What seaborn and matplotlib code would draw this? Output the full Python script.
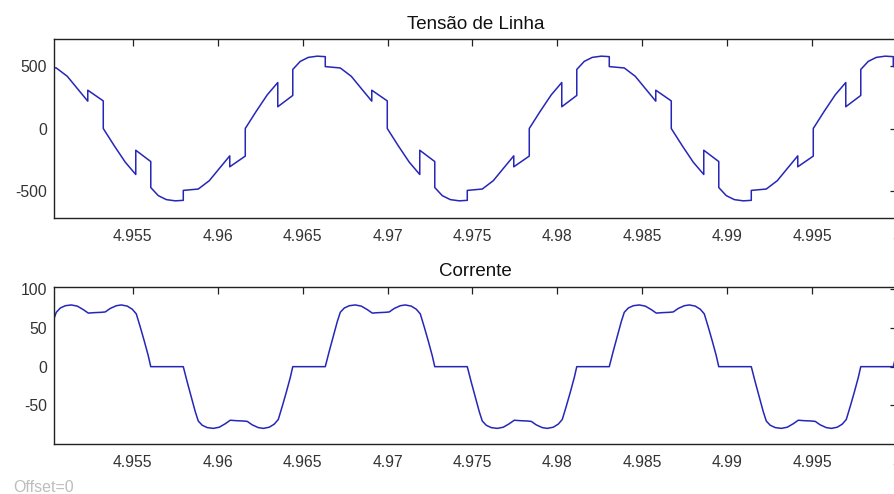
import matplotlib
matplotlib.use("Agg")
import matplotlib.pyplot as plt
import seaborn as sns

# ---------------- data ----------------
# Line voltage (Tensão de Linha): time [s] and value [V]; repeated times = vertical steps
t_tensao = [
    4.95037, 4.950504, 4.951151, 4.951740, 4.952358, 4.952358, 4.953270,
    4.953270, 4.953917, 4.954565, 4.955183, 4.955183, 4.956066, 4.956066, 4.956507, 4.956978,
    4.957508, 4.957979, 4.957979, 4.958862, 4.959509, 4.960098, 4.960716, 4.960716, 4.961628,
    4.961628, 4.962275, 4.962923, 4.963541, 4.963541, 4.964424, 4.964424, 4.964865, 4.965336,
    4.965866, 4.966337, 4.966337, 4.967220, 4.967867, 4.968456, 4.969074, 4.969074, 4.969986,
    4.969986, 4.970633, 4.971281, 4.971899, 4.971899, 4.972782, 4.972782, 4.973223, 4.973694,
    4.974224, 4.974695, 4.974695, 4.975578, 4.976225, 4.976814, 4.977432, 4.977432, 4.978344,
    4.978344, 4.978991, 4.979639, 4.980257, 4.980257, 4.981140, 4.981140, 4.981581, 4.982052,
    4.982582, 4.983053, 4.983053, 4.983936, 4.984583, 4.985172, 4.985790, 4.985790, 4.986702,
    4.986702, 4.987349, 4.987997, 4.988615, 4.988615, 4.989498, 4.989498, 4.989939, 4.990410,
    4.990940, 4.991411, 4.991411, 4.992294, 4.992941, 4.993530, 4.994148, 4.994148, 4.995060,
    4.995060, 4.995707, 4.996355, 4.996973, 4.996973, 4.997856, 4.997856, 4.998297, 4.998768,
    4.999298, 4.999769, 4.999769, 5.0,
]
v_linha = [
    490, 487, 420, 322, 220, 308, 222,
    0, -139, -271, -370, -175, -266, -475, -540, -572,
    -582, -578, -498, -487, -420, -322, -220, -308, -222,
    0, 139, 271, 370, 175, 266, 475, 540, 572,
    582, 578, 498, 487, 420, 322, 220, 308, 222,
    0, -139, -271, -370, -175, -266, -475, -540, -572,
    -582, -578, -498, -487, -420, -322, -220, -308, -222,
    0, 139, 271, 370, 175, 266, 475, 540, 572,
    582, 578, 498, 487, 420, 322, 220, 308, 222,
    0, -139, -271, -370, -175, -266, -475, -540, -572,
    -582, -578, -498, -487, -420, -322, -220, -308, -222,
    0, 139, 271, 370, 175, 266, 475, 540, 572,
    582, 578, 498, 495,
]

# Current (Corrente): time [s] and value [A]
t_corrente = [
    4.95037, 4.950504, 4.950739, 4.951034, 4.951387, 4.951740, 4.952093, 4.952387,
    4.952682, 4.953153, 4.953388, 4.953682, 4.954036, 4.954330, 4.954683, 4.954977,
    4.955213, 4.955448, 4.955684, 4.955919, 4.956066,
    4.957979, 4.958214, 4.958450, 4.958685, 4.958862, 4.959097, 4.959392, 4.959745,
    4.960098, 4.960451, 4.960745, 4.961040, 4.961511, 4.961746, 4.962040, 4.962394,
    4.962688, 4.963041, 4.963335, 4.963571, 4.963806, 4.964042, 4.964277, 4.964424,
    4.966337, 4.966572, 4.966808, 4.967043, 4.967220, 4.967455, 4.967750, 4.968103,
    4.968456, 4.968809, 4.969103, 4.969398, 4.969869, 4.970104, 4.970398, 4.970752,
    4.971046, 4.971399, 4.971693, 4.971929, 4.972164, 4.972400, 4.972635, 4.972782,
    4.974695, 4.974930, 4.975166, 4.975401, 4.975578, 4.975813, 4.976108, 4.976461,
    4.976814, 4.977167, 4.977461, 4.977756, 4.978227, 4.978462, 4.978756, 4.979110,
    4.979404, 4.979757, 4.980051, 4.980287, 4.980522, 4.980758, 4.980993, 4.981140,
    4.983053, 4.983288, 4.983524, 4.983759, 4.983936, 4.984171, 4.984466, 4.984819,
    4.985172, 4.985525, 4.985819, 4.986114, 4.986585, 4.986820, 4.987114, 4.987468,
    4.987762, 4.988115, 4.988409, 4.988645, 4.988880, 4.989116, 4.989351, 4.989498,
    4.991411, 4.991646, 4.991882, 4.992117, 4.992294, 4.992529, 4.992824, 4.993177,
    4.993530, 4.993883, 4.994177, 4.994472, 4.994943, 4.995178, 4.995472, 4.995826,
    4.996120, 4.996473, 4.996767, 4.997003, 4.997238, 4.997474, 4.997709, 4.997856,
    4.999769, 5.0,
]
i_corrente = [
    62, 70, 75.5, 78.5, 79.5, 78, 73.5, 69,
    69.5, 70, 70.5, 75, 78.5, 79.5, 78, 74,
    68, 51, 33, 14, 0,
    0, -20, -39, -58, -70, -75.5, -78.5, -79.5,
    -78, -73.5, -69, -69.5, -70, -70.5, -75, -78.5,
    -79.5, -78, -74, -68, -51, -33, -14, 0,
    0, 20, 39, 58, 70, 75.5, 78.5, 79.5,
    78, 73.5, 69, 69.5, 70, 70.5, 75, 78.5,
    79.5, 78, 74, 68, 51, 33, 14, 0,
    0, -20, -39, -58, -70, -75.5, -78.5, -79.5,
    -78, -73.5, -69, -69.5, -70, -70.5, -75, -78.5,
    -79.5, -78, -74, -68, -51, -33, -14, 0,
    0, 20, 39, 58, 70, 75.5, 78.5, 79.5,
    78, 73.5, 69, 69.5, 70, 70.5, 75, 78.5,
    79.5, 78, 74, 68, 51, 33, 14, 0,
    0, -20, -39, -58, -70, -75.5, -78.5, -79.5,
    -78, -73.5, -69, -69.5, -70, -70.5, -75, -78.5,
    -79.5, -78, -74, -68, -51, -33, -14, 0,
    0, 20,
]

x_ticks = [4.955, 4.96, 4.965, 4.97, 4.975, 4.98, 4.985, 4.99, 4.995, 5.0]
x_tick_labels = ["4.955", "4.96", "4.965", "4.97", "4.975", "4.98", "4.985", "4.99", "4.995", "5"]
y_ticks_tensao = [-500, 0, 500]
y_ticks_corrente = [-50, 0, 50, 100]
titulos = ["Tensão de Linha", "Corrente"]

# ---------------- style ----------------
sns.set_theme(style="white")
plt.rcParams['font.family'] = ['Liberation Sans', 'DejaVu Sans']
plt.rcParams['axes.unicode_minus'] = False

LINE = "#2626b8"
fig = plt.figure(figsize=(8.95, 4.94), dpi=100)
W, H = 895.0, 494.0
left, right = 54.0, 897.2
ax1 = fig.add_axes([left / W, 1 - 218.0 / H, (right - left) / W, (218.0 - 39.0) / H])
ax2 = fig.add_axes([left / W, 1 - 444.3 / H, (right - left) / W, (444.3 - 286.7) / H])

sns.lineplot(x=t_tensao, y=v_linha, ax=ax1, estimator=None, sort=False,
             color=LINE, linewidth=1.1)
sns.lineplot(x=t_corrente, y=i_corrente, ax=ax2, estimator=None, sort=False,
             color=LINE, linewidth=1.1)

for ax, title, yt, ylim in [(ax1, titulos[0], y_ticks_tensao, (-720, 720)),
                            (ax2, titulos[1], y_ticks_corrente, (-100, 103))]:
    ax.set_xlim(4.95037, 5.0)
    ax.set_ylim(*ylim)
    ax.set_xticks(x_ticks, labels=x_tick_labels)
    ax.set_yticks(yt)
    ax.set_xlabel("")
    ax.set_ylabel("")
    ax.set_title(title, fontsize=13.5, color="#111111", pad=7.5)
    ax.tick_params(axis="both", direction="in", top=True, right=True,
                   length=5, width=0.9, color="#222222", labelsize=11.3,
                   labelcolor="#333333")
    ax.tick_params(axis="x", pad=8)
    ax.tick_params(axis="y", pad=5)
    for s in ax.spines.values():
        s.set_color("#222222")
        s.set_linewidth(1.0)
    ax.grid(False)

fig.text(13.0 / W, 1 - 492.0 / H, "Offset=0", fontsize=11.5, color="#bdbdbd",
         ha="left", va="baseline")

fig.savefig("out.png", dpi=100, facecolor="white")
